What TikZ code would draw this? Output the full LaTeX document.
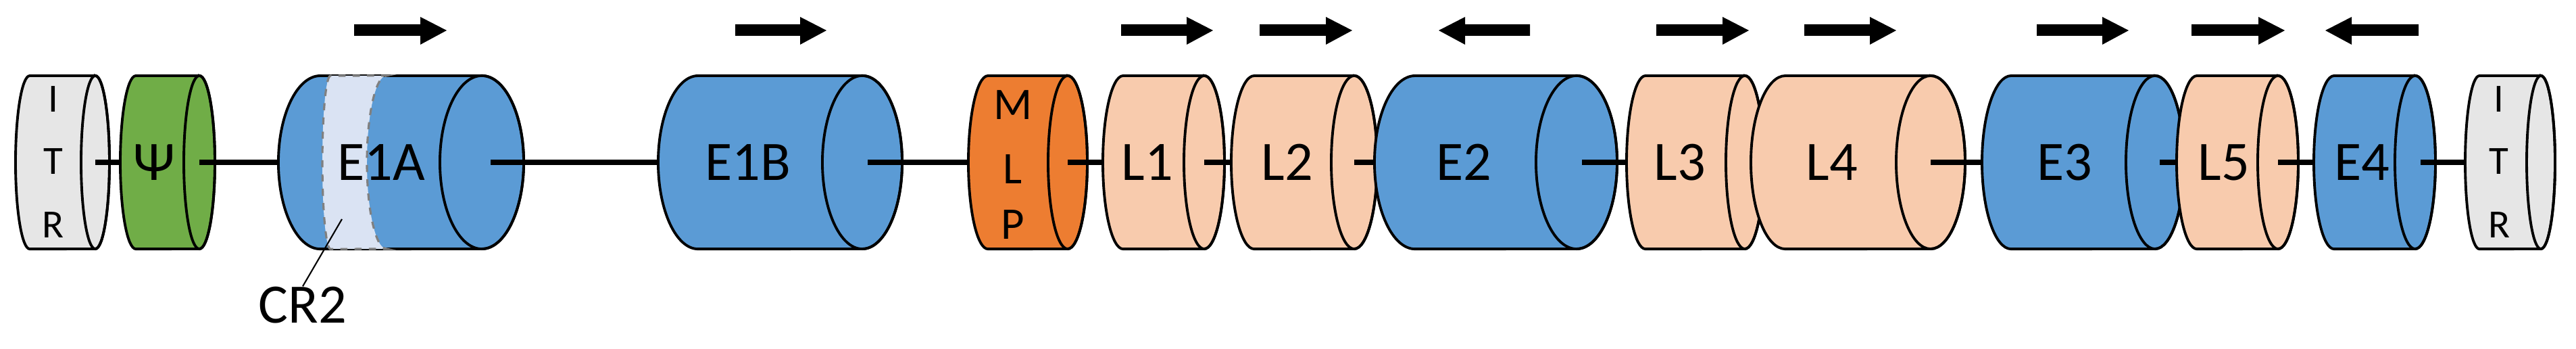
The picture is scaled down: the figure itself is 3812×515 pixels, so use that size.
\documentclass[tikz,border=0pt]{standalone}
\usepackage{fontspec}
\setmainfont{Carlito}
\definecolor{cblue}{HTML}{5B9BD5}
\definecolor{cpeach}{HTML}{F8CBAD}
\definecolor{corange}{HTML}{ED7D31}
\definecolor{cgreen}{HTML}{70AD47}
\definecolor{cgrey}{HTML}{E6E6E6}
\definecolor{cband}{HTML}{DAE3F3}
% \cyl{name}{left extremity}{right center}{rx}{colour}
\newcommand{\cyl}[5]{%
  \pgfmathsetmacro{\rxx}{#4*0.28453}%
  \pgfmathsetmacro{\xl}{#2+#4}%
  \filldraw[fill=#5,outline] (#3,403) -- (\xl,403)
     arc[start angle=90,end angle=270,x radius=\rxx pt,y radius=36.42pt]
     -- (#3,147)
     arc[start angle=270,end angle=450,x radius=\rxx pt,y radius=36.42pt] -- cycle;
  \draw[outline] (#3,275) ellipse[x radius=\rxx pt,y radius=36.42pt];
  \coordinate (#1L) at (#2,275);
  \coordinate (#1R) at (#3,275);}
\newcommand{\rarr}[3]{\fill (#2,479) -- (#3-39,479) -- (#3-39,490) -- (#3,470) -- (#3-39,449) -- (#3-39,462) -- (#2,462) -- cycle; \coordinate (#1) at (#2,470);}
\newcommand{\larr}[3]{\fill (#3,479) -- (#2+39,479) -- (#2+39,490) -- (#2,470) -- (#2+39,449) -- (#2+39,462) -- (#3,462) -- cycle; \coordinate (#1) at (#2,470);}
\begin{document}
\begin{tikzpicture}[x=0.01cm,y=0.01cm,
  outline/.style={draw=black,line width=1.1pt},
  link/.style={line width=2.2pt},
  lab/.style={font=\fontsize{23.4}{24}\selectfont,inner sep=0pt},
  small/.style={font=\fontsize{16.8}{18}\selectfont,inner sep=0pt}]
\useasboundingbox (0,0) rectangle (3812,515);
\cyl{itra}{23}{141}{21}{cgrey}
\cyl{psi}{178}{295}{23}{cgreen}
\cyl{eia}{412}{713}{62}{cblue}
\cyl{eib}{974}{1276}{59}{cblue}
\cyl{mlp}{1433}{1580}{29}{corange}
\cyl{li}{1632}{1782}{30}{cpeach}
\cyl{lii}{1822}{2004}{34}{cpeach}
\cyl{eii}{2034}{2333}{60}{cblue}
\cyl{liii}{2407}{2582}{28}{cpeach}
\cyl{liv}{2591}{2857}{51}{cpeach}
\cyl{eiii}{2933}{3189}{43}{cblue}
\cyl{lv}{3221}{3371}{30}{cpeach}
\cyl{eiv}{3424}{3574}{30}{cblue}
\cyl{itrb}{3648}{3760}{21}{cgrey}
% CR2 band
\filldraw[fill=cband,draw=gray,dashed,line width=0.9pt]
  (489,403) arc[start angle=90,end angle=270,x radius=3.41pt,y radius=36.42pt]
  -- (572,147) arc[start angle=270,end angle=90,x radius=8.25pt,y radius=36.42pt] -- cycle;
% links
\draw[link] (itraR) -- (psiL);
\draw[link] (psiR) -- (eiaL);
\draw[link] ([xshift=0.13cm]eiaR) -- (eibL);
\draw[link] ([xshift=0.08cm]eibR) -- (mlpL);
\draw[link] (mlpR) -- (liL);
\draw[link] (liR) -- (liiL);
\draw[link] (liiR) -- (eiiL);
\draw[link] ([xshift=0.08cm]eiiR) -- (liiiL);
\draw[link] (livR) -- (eiiiL);
\draw[link] ([xshift=0.07cm]eiiiR) -- (lvL);
\draw[link] (lvR) -- (eivL);
\draw[link] ([xshift=0.08cm]eivR) -- (itrbL);
% labels
\foreach \n/\x in {itraI/79,itrbI/3698}{\node[small] (\n1) at (\x,368) {I};\node[small] (\n2) at (\x,276) {T};\node[small] (\n3) at (\x,182) {R};}
\node[lab] (tpsi) at (228,275) {Ψ};
\node[lab] (teia) at (564,275) {E1A};
\node[lab] (teib) at (1107,275) {E1B};
\node[small,font=\fontsize{19}{20}\selectfont] (tm) at (1499,360) {M};
\node[small,font=\fontsize{19}{20}\selectfont] (tl) at (1499,265) {L};
\node[small,font=\fontsize{19}{20}\selectfont] (tp) at (1499,183) {P};
\node[lab] (tli) at (1698,275) {L1};
\node[lab] (tlii) at (1905,275) {L2};
\node[lab] (teii) at (2166,275) {E2};
\node[lab] (tliii) at (2486,275) {L3};
\node[lab] (tliv) at (2711,275) {L4};
\node[lab] (teiii) at (3055,275) {E3};
\node[lab] (tlv) at (3291,275) {L5};
\node[lab] (teiv) at (3495,275) {E4};
\node[lab] (cr) at (448,64) {CR2};
\coordinate (crp) at (506,191);
\draw[line width=0.6pt] (crp) -- (cr.north);
% arrows
\rarr{a1}{524}{661}
\rarr{a2}{1088}{1223}
\rarr{a3}{1659}{1795}
\rarr{a4}{1864}{2001}
\larr{a5}{2129}{2264}
\rarr{a6}{2451}{2588}
\rarr{a7}{2670}{2806}
\rarr{a8}{3014}{3150}
\rarr{a9}{3243}{3381}
\larr{a10}{3441}{3579}
\end{tikzpicture}
\end{document}
